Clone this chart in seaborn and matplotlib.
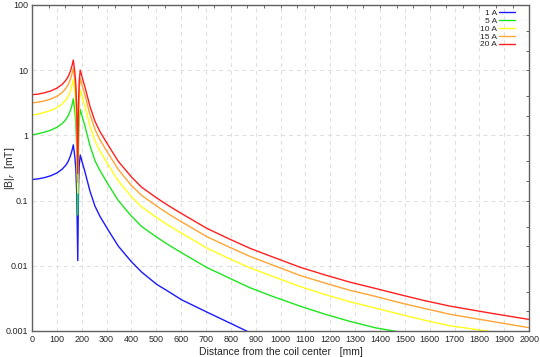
"""Radial flux density |B|r versus distance from the coil center, for several coil currents."""

import matplotlib

matplotlib.use("Agg")
import matplotlib.pyplot as plt  # noqa: E402
import matplotlib.ticker as mticker  # noqa: E402
import numpy as np  # noqa: E402
import pandas as pd  # noqa: E402
import seaborn as sns  # noqa: E402

nan = np.nan

DISTANCE_MM = [
    0, 25, 50, 75, 100, 120, 135, 145, 155, 162,
    166, 172, 176, 180, 184, 187, 190, 194, 200, 213,
    233, 253, 273, 307, 347, 400, 441, 501, 550, 602,
    703, 800, 877, 958, 1078, 1180, 1279, 1380, 1481, 1582,
    1682, 1850, 2000,
]

B_1A = [
    0.21, 0.215, 0.225, 0.24, 0.265, 0.30, 0.345, 0.395, 0.49, 0.61,
    0.715, 0.475, 0.315, 0.125, 0.012, 0.15, 0.35, 0.50, 0.41, 0.275,
    0.14, 0.0825, 0.0575, 0.035, 0.020, 0.0115, 0.0080, 0.0052, 0.0040, 0.0030,
    0.00195, 0.0013, 0.00094, nan, nan, nan, nan, nan, nan, nan,
    nan, nan, nan,
]
B_5A = [
    1.02, 1.06, 1.12, 1.2, 1.33, 1.5, 1.73, 1.98, 2.45, 3.05,
    3.65, 2.38, 1.58, 0.63, 0.06, 0.75, 1.75, 2.5, 2.05, 1.38,
    0.7, 0.41, 0.29, 0.175, 0.10, 0.0575, 0.040, 0.0275, 0.0208, 0.0158,
    0.0094, 0.0063, 0.0046, 0.0035, 0.0024, 0.0018, 0.0014, 0.00112, 0.00096, 0.00075,
    nan, nan, nan,
]
B_10A = [
    2.05, 2.12, 2.25, 2.4, 2.65, 3.0, 3.45, 3.95, 4.9, 6.1,
    7.15, 4.75, 3.15, 1.25, 0.13, 1.5, 3.5, 5.0, 4.1, 2.75,
    1.4, 0.825, 0.575, 0.35, 0.20, 0.115, 0.080, 0.055, 0.0415, 0.0315,
    0.0187, 0.0125, 0.0093, 0.0071, 0.0048, 0.0036, 0.0028, 0.00225, 0.0018, 0.00145,
    0.0012, 0.00097, 0.00075,
]
B_15A = [
    3.15, 3.23, 3.38, 3.6, 3.98, 4.5, 5.18, 5.93, 7.35, 9.15,
    10.7, 7.13, 4.73, 1.88, 0.19, 2.25, 5.25, 7.5, 6.15, 4.13,
    2.1, 1.24, 0.86, 0.525, 0.30, 0.17, 0.12, 0.0825, 0.062, 0.047,
    0.028, 0.0188, 0.0139, 0.0106, 0.0071, 0.0054, 0.0042, 0.0034, 0.0027, 0.0022,
    0.0018, 0.0014, 0.00112,
]
B_20A = [
    4.2, 4.3, 4.5, 4.8, 5.3, 6.0, 6.9, 7.9, 9.8, 12.2,
    14.3, 9.5, 6.3, 2.5, 0.26, 3.0, 7.0, 10.0, 8.2, 5.5,
    2.8, 1.65, 1.15, 0.70, 0.40, 0.23, 0.16, 0.11, 0.083, 0.063,
    0.0375, 0.0251, 0.0185, 0.0141, 0.0095, 0.0072, 0.0056, 0.0045, 0.0036, 0.0029,
    0.0024, 0.00186, 0.0015,
]

SERIES_LABELS = ["1 A", "5 A", "10 A", "15 A", "20 A"]
SERIES_COLORS = ["#1a1aff", "#1ee61e", "#ffff1a", "#ffa533", "#ff1f1f"]

Y_TICKS = [0.001, 0.01, 0.1, 1, 10, 100]


def build_frame() -> pd.DataFrame:
    parts = []
    for label, values in zip(SERIES_LABELS, [B_1A, B_5A, B_10A, B_15A, B_20A]):
        parts.append(pd.DataFrame({"distance": DISTANCE_MM, "B": values, "current": label}))
    return pd.concat(parts, ignore_index=True).dropna()


def main() -> None:
    sns.set_theme(style="white")
    plt.rcParams["font.family"] = ["Liberation Sans", "DejaVu Sans"]

    df = build_frame()
    fig = plt.figure(figsize=(5.40, 3.57), dpi=100)
    ax = fig.add_axes([0.0593, 0.073, 0.9207, 0.913])

    sns.lineplot(
        data=df,
        x="distance",
        y="B",
        hue="current",
        hue_order=SERIES_LABELS,
        palette=SERIES_COLORS,
        estimator=None,
        sort=False,
        linewidth=1.0,
        ax=ax,
    )

    ax.set_yscale("log")
    ax.set_xlim(0, 2000)
    ax.set_ylim(0.001, 100)
    ax.set_xticks(np.arange(0, 2001, 100))
    ax.set_yticks(Y_TICKS)
    ax.yaxis.set_major_formatter(mticker.FuncFormatter(lambda v, _: f"{v:g}"))
    ax.yaxis.set_minor_locator(mticker.NullLocator())
    ax.tick_params(axis="both", which="major", direction="in", length=3, width=0.8,
                   labelsize=6.5, pad=3, color="#555555")

    ax.grid(True, which="major", color="#dddddd", linestyle=(0, (4, 4)), linewidth=0.7)
    for spine in ax.spines.values():
        spine.set_color("#606060")
        spine.set_linewidth(1.0)

    top = ax.secondary_xaxis("top")
    top.set_xticks(np.arange(0, 2001, 2000 / 30))
    top.tick_params(direction="in", length=2.5, width=0.7, labeltop=False, color="#666666")
    top.spines["top"].set_visible(False)

    right = ax.secondary_yaxis("right")
    right.set_yticks([m * 10.0 ** k for k in range(-3, 2) for m in (1, 2, 4)] + [100])
    right.yaxis.set_minor_locator(mticker.NullLocator())
    right.tick_params(direction="in", length=2.5, width=0.7, labelright=False, color="#666666")
    right.spines["right"].set_visible(False)

    ax.set_xlabel("Distance from the coil center   [mm]", fontsize=7.5, labelpad=2)
    ax.set_ylabel(r"|B|$_r$  [mT]", fontsize=7.5)
    ax.yaxis.set_label_coords(-0.030, 0.5)

    leg = ax.legend(
        loc="upper right",
        bbox_to_anchor=(0.978, 0.997),
        frameon=False,
        markerfirst=False,
        fontsize=6,
        handlelength=1.9,
        handletextpad=0.25,
        labelspacing=0.0,
        borderaxespad=0.0,
    )
    for line in leg.get_lines():
        line.set_linewidth(1.0)

    fig.savefig("out.png", dpi=100)
    plt.close(fig)


if __name__ == "__main__":
    main()
